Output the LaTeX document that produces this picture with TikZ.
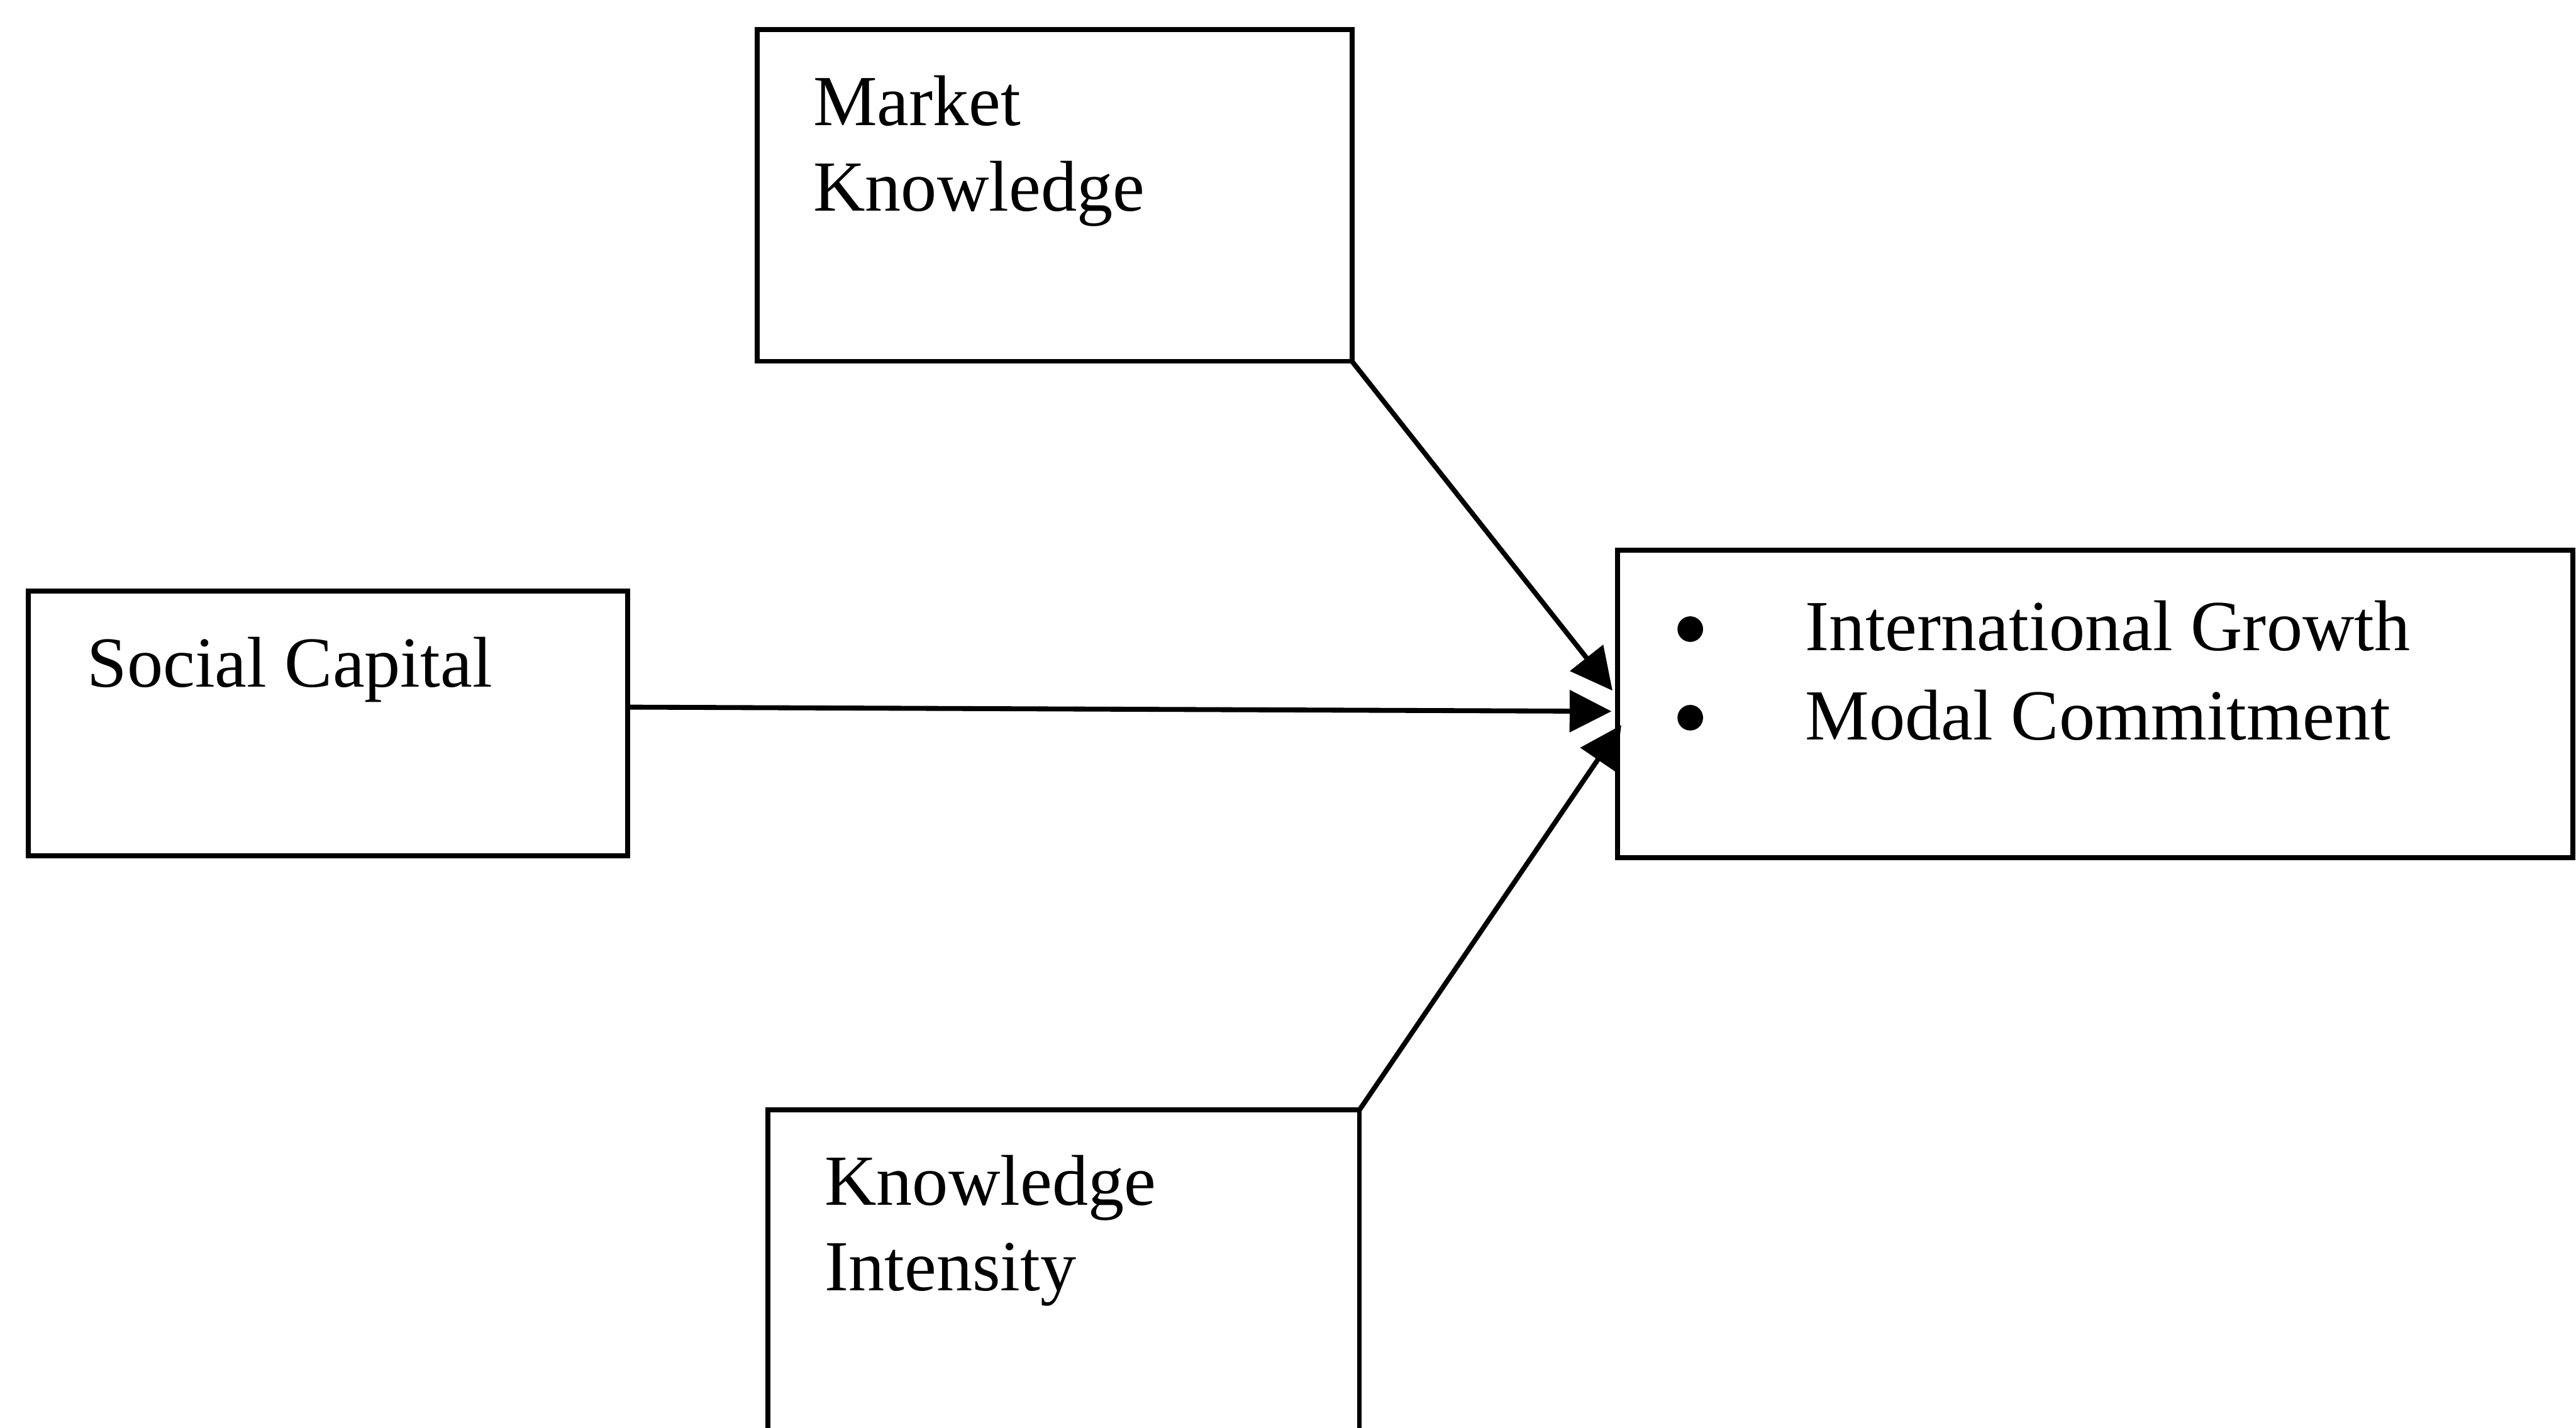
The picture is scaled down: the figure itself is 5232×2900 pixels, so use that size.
\documentclass[tikz,border=0pt]{standalone}
\usepackage{fontspec}
\setmainfont{Liberation Serif}
\usetikzlibrary{arrows.meta}
\begin{document}
\begin{tikzpicture}[x=0.1pt,y=-0.1pt,
  boxnode/.style={draw=black,line width=1pt,rectangle,inner sep=0pt,outer sep=0pt,anchor=north west},
  lbl/.style={inner sep=0pt,anchor=base west,font=\fontsize{14.6pt}{17.5pt}\selectfont},
  dot/.style={circle,fill=black,inner sep=0pt,minimum size=5.2pt},
  arr/.style={line width=1pt,-{Triangle[length=8.5pt,width=8.4pt]}}]
\useasboundingbox (0,0) rectangle (5232,2900);
\clip (0,0) rectangle (5232,2900);
% boxes
\node[boxnode,minimum width=120.8pt,minimum height=67.4pt] (mk) at (1538,60) {};
\node[boxnode,minimum width=121.8pt,minimum height=53.7pt] (sc) at (57,1201) {};
\node[boxnode,minimum width=120.1pt,minimum height=74.5pt] (ki) at (1560,2255) {};
\node[boxnode,minimum width=194.1pt,minimum height=62.4pt] (out) at (3285,1118) {};
% texts
\node[lbl] (mk1) at (1650,255) {Market};
\node[lbl] (mk2) at (1650,429) {Knowledge};
\node[lbl] (sc1) at (175,1395) {Social Capital};
\node[lbl] (ki1) at (1673,2448) {Knowledge};
\node[lbl] (ki2) at (1673,2622) {Intensity};
\node[dot] (b1) at (3433,1278) {};
\node[dot] (b2) at (3433,1458) {};
\node[lbl] (o1) at (3665,1322) {International Growth};
\node[lbl] (o2) at (3665,1503) {Modal Commitment};
% arrow tips
\coordinate (t1) at (3275,1403);
\coordinate (t2) at (3273,1445);
\coordinate (t3) at (3293,1473);
\draw[arr] (mk.south east) -- (t1);
\draw[arr] ([yshift=3.3pt]sc.east) -- (t2);
\draw[arr] (ki.north east) -- (t3);
\end{tikzpicture}
\end{document}
